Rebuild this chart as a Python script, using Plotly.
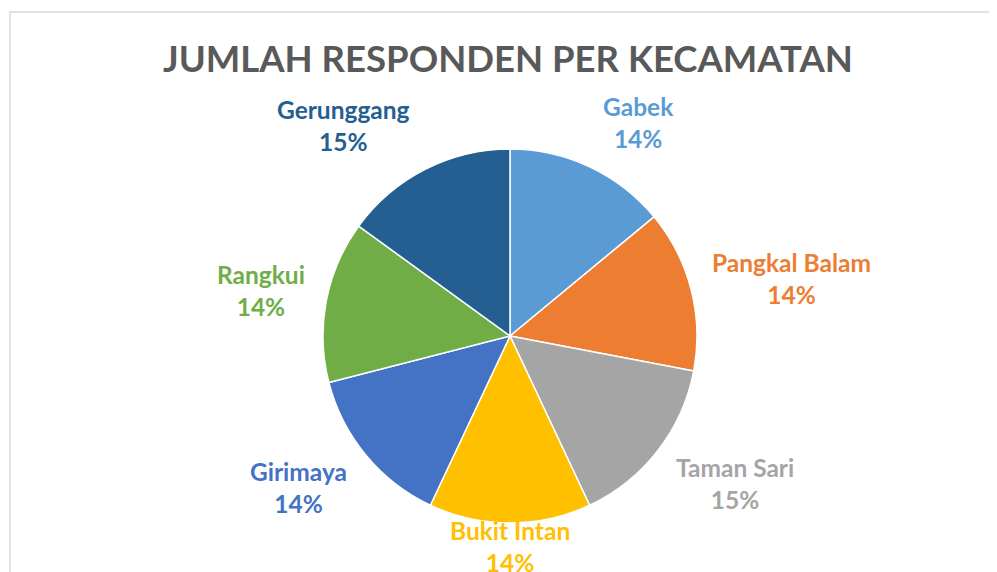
import math
import plotly.graph_objects as go

categories = ["Gabek", "Pangkal Balam", "Taman Sari", "Bukit Intan", "Girimaya", "Rangkui", "Gerunggang"]
values = [14, 14, 15, 14, 14, 14, 15]
colors = ["#5B9BD5", "#ED7D31", "#A5A5A5", "#FFC000", "#4472C4", "#70AD47", "#255E91"]
title_text = "JUMLAH RESPONDEN PER KECAMATAN"

# page body has an 8px margin: work in figure pixels = page pixels - 8
OFF = 8
W, H = 997 - OFF, 572 - OFF
cx, cy, r = 510 - OFF, 336 - OFF, 187
FONT = "Lato"

fig = go.Figure(go.Pie(
    labels=categories, values=values, sort=False, direction="clockwise", rotation=0,
    marker=dict(colors=colors, line=dict(color="white", width=1.5)),
    textinfo="none", hoverinfo="label+percent", showlegend=False,
    domain=dict(x=[(cx - r) / W, (cx + r) / W], y=[1 - (cy + r) / H, 1 - (cy - r) / H]),
))

total = sum(values)
cum = 0
annotations = []
for name, v, col in zip(categories, values, colors):
    theta = math.radians((cum + v / 2) / total * 360)
    cum += v
    s, c = math.sin(theta), math.cos(theta)
    R = r + 13
    px = cx + R * s
    py = cy - R * c
    xa = "left" if s > 0.3 else ("right" if s < -0.3 else "center")
    ya = "bottom" if c > 0.3 else ("top" if c < -0.3 else "middle")
    if xa == "left":
        px += 6
    elif xa == "right":
        px -= 7
    if ya != "bottom":
        py -= 8
    if ya == "top" and xa == "center":
        py -= 14
    pct = round(v / total * 100)
    annotations.append(dict(
        x=px / W, y=1 - py / H, xref="paper", yref="paper",
        xanchor=xa, yanchor=ya, showarrow=False, align="center",
        text=f"<b>{name}<br>{pct}%</b>",
        font=dict(family=FONT, size=24.5, color=col),
    ))

annotations.append(dict(
    x=(508 - OFF) / W, y=1 - (58 - OFF) / H, xref="paper", yref="paper",
    xanchor="center", yanchor="middle",
    showarrow=False, text=f"<b>{title_text}</b>",
    font=dict(family=FONT, size=36.5, color="#595959"),
))

fig.update_layout(
    width=W, height=H, margin=dict(l=0, r=0, t=0, b=0),
    paper_bgcolor="white", plot_bgcolor="white",
    annotations=annotations,
    shapes=[dict(type="path", xref="paper", yref="paper",
                 path=f"M {(10-OFF)/W} 0 L {(10-OFF)/W} {1-(12-OFF)/H} L 1 {1-(12-OFF)/H}",
                 line=dict(color="#D9D9D9", width=1.5))],
)

fig.write_html("out.html")
